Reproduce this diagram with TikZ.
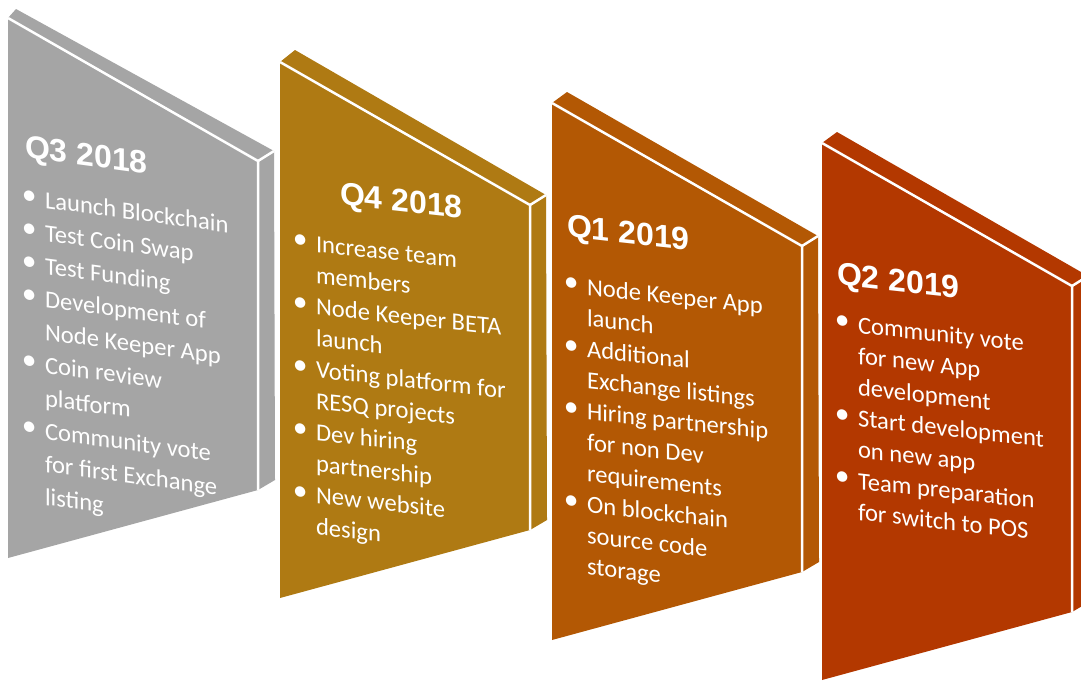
\documentclass[tikz,border=0pt]{standalone}
\usepackage{fontspec}
\setmainfont{Carlito}
\newfontfamily\titlefont{Liberation Sans}
\definecolor{pgray}{RGB}{165,165,165}
\definecolor{pgold}{RGB}{175,122,19}
\definecolor{porange}{RGB}{179,88,4}
\definecolor{pred}{RGB}{179,56,0}
\tikzset{
  line/.style={anchor=base west, inner sep=0pt, outer sep=0pt, text=white,
    font=\fontsize{24.6}{30}\selectfont, transform shape},
  qtitle/.style={anchor=base west, inner sep=0pt, outer sep=0pt, text=white,
    font=\titlefont\bfseries\fontsize{32}{36}\selectfont, transform shape},
  facecut/.style={draw=white, line width=2.5pt, line join=miter, line cap=butt}
}
\newcommand{\bul}{\llap{\raisebox{1.5pt}{\scalebox{1.2}{\textbullet}}\hspace{8.5pt}}}
% #1 colour, #2 x0, #3 yTop, #4 yBottom, #5 name, #6 back dx, #7 back dy
\newcommand{\drawpanel}[7]{%
  \coordinate (#5A) at (#2,#3);
  \coordinate (#5B) at (#2+250,#3+143);
  \coordinate (#5C) at (#2+250,#4-68);
  \coordinate (#5D) at (#2,#4);
  \coordinate (#5E) at (#2+#6,#3+#7);
  \coordinate (#5F) at (#2+266,#3+133);
  \coordinate (#5G) at (#2+267,#4-78);
  \fill[#1] (#5A) -- (#5E) -- (#5F) -- (#5G) -- (#5C) -- (#5D) -- cycle;
  \draw[facecut] (#5A) -- (#5B) -- (#5C);
  \draw[facecut] (#5B) -- (#5F);
}
\begin{document}
\begin{tikzpicture}[x=1pt,y=-1pt]
\fill[white] (0,0) rectangle (1081,681);
\useasboundingbox (0,0) rectangle (1081,681);

\drawpanel{pgray}{8}{18}{558}{pa}{8}{-9}
\drawpanel{pgold}{280}{62}{598}{pb}{15}{-12}
\drawpanel{porange}{552}{103}{640}{pc}{15}{-11}
\drawpanel{pred}{822}{143}{680}{pd}{15}{-11}

% panel 1
\begin{scope}[shift={(45,208)}, yslant=-0.135]
  \node[qtitle] (t1) at (-20,-48) {Q3 2018};
  \node[line] (a0) at (0,0)   {\bul Launch Blockchain};
  \node[line] (a1) at (0,33)  {\bul Test Coin Swap};
  \node[line] (a2) at (0,66)  {\bul Test Funding};
  \node[line] (a3) at (0,99)  {\bul Development of};
  \node[line] (a4) at (0,132) {Node Keeper App};
  \node[line] (a5) at (0,165) {\bul Coin review};
  \node[line] (a6) at (0,198) {platform};
  \node[line] (a7) at (0,231) {\bul Community vote};
  \node[line] (a8) at (0,264) {for first Exchange};
  \node[line] (a9) at (0,297) {listing};
\end{scope}

% panel 2
\begin{scope}[shift={(316,252)}, yslant=-0.11]
  \node[qtitle] (t2) at (24,-50) {Q4 2018};
  \node[line] (b0) at (0,0)     {\bul Increase team};
  \node[line] (b1) at (0,31.4)  {members};
  \node[line] (b2) at (0,62.8)  {\bul Node Keeper BETA};
  \node[line] (b3) at (0,94.2)  {launch};
  \node[line] (b4) at (0,125.6) {\bul Voting platform for};
  \node[line] (b5) at (0,157)   {RESQ projects};
  \node[line] (b6) at (0,188.4) {\bul Dev hiring};
  \node[line] (b7) at (0,219.8) {partnership};
  \node[line] (b8) at (0,251.2) {\bul New website};
  \node[line] (b9) at (0,282.6) {design};
\end{scope}

% panel 3
\begin{scope}[shift={(587,295)}, yslant=-0.11]
  \node[qtitle] (t3) at (-20,-56) {Q1 2019};
  \node[line] (c0) at (0,0)     {\bul Node Keeper App};
  \node[line] (c1) at (0,31.1)  {launch};
  \node[line] (c2) at (0,62.2)  {\bul Additional};
  \node[line] (c3) at (0,93.3)  {Exchange listings};
  \node[line] (c4) at (0,124.4) {\bul Hiring partnership};
  \node[line] (c5) at (0,155.5) {for non Dev};
  \node[line] (c6) at (0,186.6) {requirements};
  \node[line] (c7) at (0,217.7) {\bul On blockchain};
  \node[line] (c8) at (0,248.8) {source code};
  \node[line] (c9) at (0,279.9) {storage};
\end{scope}

% panel 4
\begin{scope}[shift={(858,333)}, yslant=-0.11]
  \node[qtitle] (t4) at (-21,-46) {Q2 2019};
  \node[line] (d0) at (0,0)     {\bul Community vote};
  \node[line] (d1) at (0,31.2)  {for new App};
  \node[line] (d2) at (0,62.4)  {development};
  \node[line] (d3) at (0,93.6)  {\bul Start development};
  \node[line] (d4) at (0,124.8) {on new app};
  \node[line] (d5) at (0,156)   {\bul Team preparation};
  \node[line] (d6) at (0,187.2) {for switch to POS};
\end{scope}
\end{tikzpicture}
\end{document}
